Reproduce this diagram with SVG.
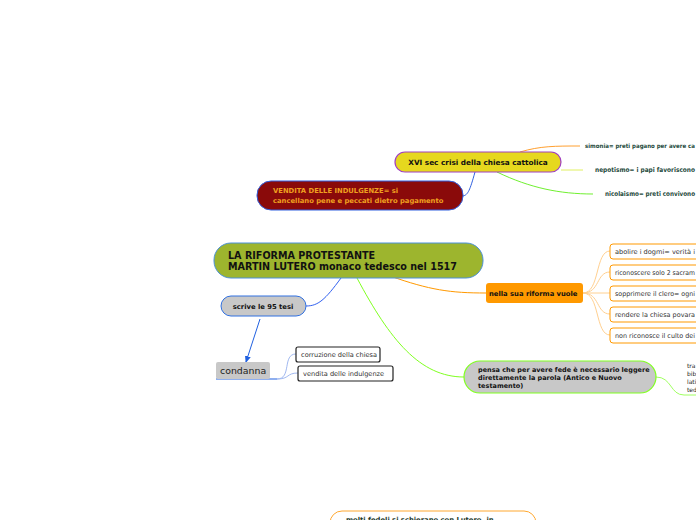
<svg xmlns="http://www.w3.org/2000/svg" width="696" height="520" viewBox="0 0 696 520">
<style>
text{font-family:"DejaVu Sans",Verdana,sans-serif}
.b{font-weight:bold}
.leaf{font-size:6px;font-weight:bold;fill:#1e4a3c}
.sub{font-size:6.6px;fill:#333}
.c{fill:none;stroke-width:1}
.sb{fill:#fff;stroke:#ff9900;stroke-width:1}
</style>
<defs>
<marker id="ah" markerWidth="8" markerHeight="8" refX="6" refY="4" orient="auto" markerUnits="userSpaceOnUse">
<path d="M0,1 L7,4 L0,7 Z" fill="#2060e0"/>
</marker>
</defs>
<rect width="696" height="520" fill="#fff"/>
<g id="connectors">
<path class="c" d="M475,172 C470,190 468,195 463,196" stroke="#3060e0"/>
<path class="c" d="M520,152 C540,146 555,146 580,146" stroke="#ffa030"/>
<path class="c" d="M561,170 L583,170" stroke="#e0f060"/>
<path class="c" d="M497,172 C530,188 560,194 593,194" stroke="#70f030"/>
<path class="c" d="M341,278 C325,300 318,306 306,306" stroke="#3060f0"/>
<path class="c" d="M390,276 C430,290 450,293 486,293" stroke="#ff9900"/>
<path class="c" d="M357,278 C390,340 420,377 464,377" stroke="#80ff20"/>
<path class="c" d="M260,319 L246,362" stroke="#2060e0" marker-end="url(#ah)"/>
<line x1="216" y1="379" x2="277" y2="379" stroke="#2060e0" stroke-width="1.2"/>
<path class="c" d="M277,379 C292,379 282,354 296,354" stroke="#a0b8f0"/>
<path class="c" d="M277,379 C290,379 286,373 298,373" stroke="#a0b8f0"/>
<g stroke="#ffd090" fill="none">
<path d="M583,293 C600,293 595,251 610,251"/>
<path d="M583,293 C600,293 596,272 610,272"/>
<path d="M583,293 L610,293"/>
<path d="M583,293 C600,293 596,314 610,314"/>
<path d="M583,293 C600,293 595,335 610,335"/>
</g>
<path class="c" d="M656,377 C672,377 670,395 684,395 L696,395" stroke="#a0ff60"/>
</g>
<g id="xvi">
<rect x="395" y="152" width="166" height="20" rx="10" fill="#e6d81e" stroke="#a040c0" stroke-width="1.2"/>
<text x="478" y="165" font-size="7.3" class="b" text-anchor="middle" fill="#111">XVI sec crisi della chiesa cattolica</text>
</g>
<g id="simonia"><text x="585" y="148" class="leaf" textLength="110" lengthAdjust="spacingAndGlyphs">simonia= preti pagano per avere ca</text></g>
<g id="nepotismo"><text x="595" y="172" class="leaf" style="font-size:6.5px" textLength="100" lengthAdjust="spacingAndGlyphs">nepotismo= i papi favoriscono</text></g>
<g id="nicolaismo"><text x="605" y="196" class="leaf" style="font-size:6.5px" textLength="90" lengthAdjust="spacingAndGlyphs">nicolaismo= preti convivono</text></g>
<g id="vendita">
<rect x="257" y="181" width="206" height="29" rx="14" fill="#8a0a0a" stroke="#3060e0" stroke-width="1"/>
<text x="273" y="193" font-size="6.8" class="b" fill="#f0a020">VENDITA DELLE INDULGENZE= si</text>
<text x="273" y="203" font-size="6.8" class="b" fill="#f0a020">cancellano pene e peccati dietro pagamento</text>
</g>
<g id="main">
<rect x="214" y="243" width="269" height="35" rx="17" fill="#9db52e" stroke="#4a90d9" stroke-width="1"/>
<text x="228" y="259" font-size="9.6" class="b" fill="#111">LA RIFORMA PROTESTANTE</text>
<text x="228" y="270" font-size="9.6" class="b" fill="#111">MARTIN LUTERO monaco tedesco nel 1517</text>
</g>
<g id="scrive">
<rect x="221" y="296" width="85" height="20" rx="10" fill="#c8c8c8" stroke="#3070e0" stroke-width="1"/>
<text x="263" y="309" font-size="6.8" class="b" text-anchor="middle" fill="#111">scrive le 95 tesi</text>
</g>
<g id="condanna">
<rect x="216" y="362" width="54" height="17" rx="2" fill="#c8c8c8"/>
<text x="220" y="374" font-size="9.4" fill="#222">condanna</text>
</g>
<g id="corruzione">
<rect x="296" y="347" width="84" height="15" rx="2" fill="#fff" stroke="#222" stroke-width="1.2"/>
<text x="301" y="357" class="sub">corruzione della chiesa</text>
</g>
<g id="venditaind">
<rect x="298" y="366" width="95" height="15" rx="2" fill="#fff" stroke="#222" stroke-width="1.2"/>
<text x="303" y="376" class="sub">vendita delle indulgenze</text>
</g>
<g id="nella">
<rect x="486" y="283" width="97" height="20" rx="3" fill="#ff9900"/>
<text x="489" y="296" font-size="6.8" class="b" fill="#111">nella sua riforma vuole</text>
</g>
<g id="r1"><rect x="610" y="244" width="100" height="15" rx="3" class="sb"/><text x="615" y="254" class="sub" textLength="80" lengthAdjust="spacingAndGlyphs">abolire i dogmi= verità i</text></g>
<g id="r2"><rect x="610" y="265" width="100" height="15" rx="3" class="sb"/><text x="615" y="275" class="sub" textLength="80" lengthAdjust="spacingAndGlyphs">riconoscere solo 2 sacram</text></g>
<g id="r3"><rect x="610" y="286" width="100" height="15" rx="3" class="sb"/><text x="615" y="296" class="sub" textLength="80" lengthAdjust="spacingAndGlyphs">sopprimere il clero= ogni</text></g>
<g id="r4"><rect x="610" y="307" width="100" height="15" rx="3" class="sb"/><text x="615" y="317" class="sub" textLength="80" lengthAdjust="spacingAndGlyphs">rendere la chiesa povara</text></g>
<g id="r5"><rect x="610" y="328" width="100" height="15" rx="3" class="sb"/><text x="615" y="338" class="sub" textLength="80" lengthAdjust="spacingAndGlyphs">non riconosce il culto dei</text></g>
<g id="pensa">
<rect x="464" y="361" width="192" height="32" rx="16" fill="#c8c8c8" stroke="#80ff20" stroke-width="1.2"/>
<text x="478" y="372" font-size="6.5" class="b" fill="#111">pensa che per avere fede è necessario leggere</text>
<text x="478" y="380" font-size="6.5" class="b" fill="#111">direttamente la parola (Antico e Nuovo</text>
<text x="478" y="388" font-size="6.5" class="b" fill="#111">testamento)</text>
</g>
<g id="traduce" font-size="6" fill="#222">
<text x="687" y="368">tra</text>
<text x="687" y="376">bib</text>
<text x="687" y="384">lati</text>
<text x="687" y="392">ted</text>
</g>
<g id="molti">
<rect x="330" y="511" width="206" height="30" rx="12" fill="#fff" stroke="#ffa830" stroke-width="1"/>
<text x="346" y="522" font-size="6.8" class="b" fill="#1e3a2c">molti fedeli si schierano con Lutero, in</text>
</g>
</svg>
